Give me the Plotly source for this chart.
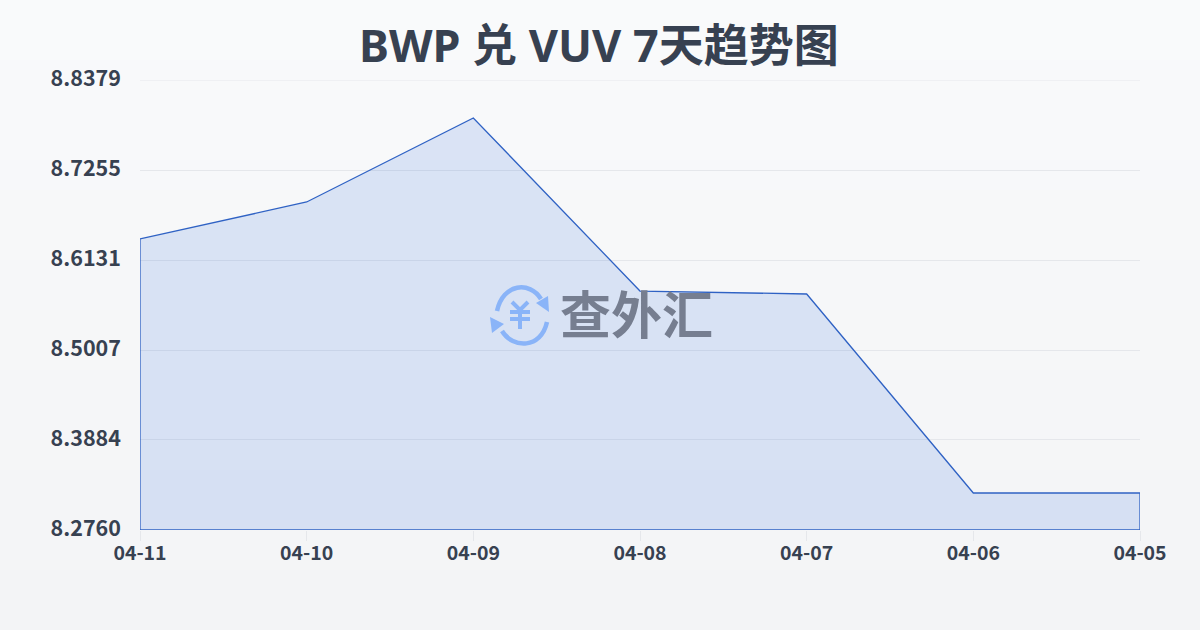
import plotly.graph_objects as go

dates = ["04-11", "04-10", "04-09", "04-08", "04-07", "04-06", "04-05"]
rates = [8.6394, 8.6856, 8.7905, 8.5744, 8.5707, 8.3222, 8.3222]
y_ticks = [8.2760, 8.3884, 8.5007, 8.6131, 8.7255, 8.8379]
y_labels = ["8.2760", "8.3884", "8.5007", "8.6131", "8.7255", "8.8379"]
title = "BWP 兑 VUV 7天趋势图"
brand = "查外汇"

W, H = 1200, 630
L, R, T, B = 140, 1140, 80, 530
INK = "#374151"
CJK = "'Noto Sans CJK SC', 'Noto Sans', sans-serif"
TITLE_FONT = "'Noto Sans', 'Noto Sans CJK SC', sans-serif"
BLUE = "#8ab4f8"
GRID = "#e5e7eb"


def px(x):
    return x / W


def py(y):
    return 1 - y / H


def mix(a, b, t):
    return "rgb(%d,%d,%d)" % tuple(round(a[i] + (b[i] - a[i]) * t) for i in range(3))


# page background gradient
shapes = []
strips = 63
for i in range(strips):
    shapes.append(dict(type="rect", xref="paper", yref="paper", layer="below",
                       x0=0, x1=1, y0=1 - i / strips, y1=1 - (i + 1) / strips,
                       line_width=0,
                       fillcolor=mix((249, 250, 251), (243, 244, 246), i / (strips - 1))))

# top gridline, which the axis omits at the range edge
shapes.append(dict(type="line", xref="x domain", yref="y", layer="below",
                   x0=0, x1=1, y0=y_ticks[-1], y1=y_ticks[-1],
                   line=dict(color=GRID, width=1)))


def path(d, **kw):
    return dict(type="path", xref="paper", yref="paper", path=d, layer="above", **kw)


def P(x, y):
    return f"{px(x):.5f},{py(y):.5f}"


# watermark logo: two circular arrows around a yen sign
arc = dict(line=dict(color=BLUE, width=4.5), fillcolor="rgba(0,0,0,0)")
tri = dict(line_width=0, fillcolor=BLUE)
yen = dict(line=dict(color=BLUE, width=4), fillcolor="rgba(0,0,0,0)")
shapes += [
    path(f"M{P(497, 311)} C{P(503, 283)} {P(530, 281)} {P(541, 299)}", **arc),
    path(f"M{P(547, 322)} C{P(541, 349)} {P(513, 349)} {P(502, 331)}", **arc),
    path(f"M{P(549, 312)} L{P(548, 296)} L{P(536, 303)} Z", **tri),
    path(f"M{P(490, 317)} L{P(492, 333)} L{P(504, 324)} Z", **tri),
    path(f"M{P(512, 302)} L{P(520, 310)} L{P(528, 302)}", **yen),
    path(f"M{P(510, 312)} L{P(530, 312)}", **yen),
    path(f"M{P(510, 319)} L{P(530, 319)}", **yen),
    path(f"M{P(520, 310)} L{P(520, 329)}", **yen),
]

fig = go.Figure()
fig.add_trace(go.Scatter(
    x=dates + [dates[-1], dates[0], dates[0]],
    y=rates + [y_ticks[0], y_ticks[0], rates[0]],
    mode="lines",
    line=dict(color="#2f62c4", width=1.3),
    fill="toself",
    fillcolor="rgba(37,99,220,0.14)",
    cliponaxis=False,
    hoverinfo="skip",
    showlegend=False,
))

fig.update_layout(
    width=W, height=H,
    margin=dict(l=0, r=0, t=0, b=0, pad=0),
    paper_bgcolor="#f6f7f9",
    plot_bgcolor="rgba(0,0,0,0)",
    shapes=shapes,
    xaxis=dict(domain=[px(L), px(R)], type="category", categoryorder="array",
               categoryarray=dates, range=[0, len(dates) - 1],
               showgrid=False, zeroline=False, showline=False,
               ticks="outside", ticklen=10, tickcolor=GRID, tickwidth=1,
               ticklabelstandoff=-4,
               tickfont=dict(family=CJK, size=19.5, color=INK, weight="bold"),
               automargin=False),
    yaxis=dict(domain=[py(B), py(T)], range=[y_ticks[0], y_ticks[-1]],
               tickmode="array", tickvals=y_ticks, ticktext=y_labels,
               showgrid=True, gridcolor=GRID, gridwidth=1,
               zeroline=False, showline=False, ticks="",
               ticklabelstandoff=18, ticklabelshift=-2,
               tickfont=dict(family=CJK, size=21.5, color=INK, weight="bold"),
               automargin=False),
    annotations=[
        dict(text=title, xref="paper", yref="paper", x=px(598.5), y=py(45),
             xanchor="center", yanchor="middle", showarrow=False,
             font=dict(family=TITLE_FONT, size=45, color=INK, weight="bold")),
        dict(text=brand, xref="paper", yref="paper", x=px(636), y=py(312),
             xanchor="center", yanchor="middle", showarrow=False,
             font=dict(family=CJK, size=51, color="#767e90", weight="bold")),
    ],
)

fig.write_html("out.html", config=dict(displayModeBar=False),
               post_script="document.body.style.margin='0';")
